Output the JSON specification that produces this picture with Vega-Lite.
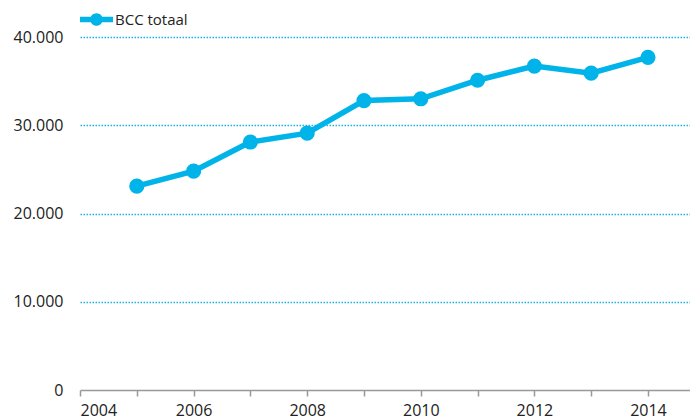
{
  "$schema": "https://vega.github.io/schema/vega-lite/v6.json",
  "autosize": "none",
  "width": 610,
  "height": 353,
  "padding": {"left": 80, "top": 37, "right": 0, "bottom": 29},
  "background": "white",
  "config": {"view": {"stroke": null}, "font": "Open Sans"},
  "data": {"values": [
    {"jaar": 2005, "waarde": 23100, "reeks": "BCC totaal"},
    {"jaar": 2006, "waarde": 24800, "reeks": "BCC totaal"},
    {"jaar": 2007, "waarde": 28100, "reeks": "BCC totaal"},
    {"jaar": 2008, "waarde": 29100, "reeks": "BCC totaal"},
    {"jaar": 2009, "waarde": 32800, "reeks": "BCC totaal"},
    {"jaar": 2010, "waarde": 33000, "reeks": "BCC totaal"},
    {"jaar": 2011, "waarde": 35100, "reeks": "BCC totaal"},
    {"jaar": 2012, "waarde": 36700, "reeks": "BCC totaal"},
    {"jaar": 2013, "waarde": 35900, "reeks": "BCC totaal"},
    {"jaar": 2014, "waarde": 37700, "reeks": "BCC totaal"}
  ]},
  "encoding": {
    "x": {
      "field": "jaar", "type": "quantitative",
      "scale": {"domain": [2004, 2014.74], "nice": false, "zero": false},
      "axis": {
        "title": null, "values": [2004,2005,2006,2007,2008,2009,2010,2011,2012,2013,2014],
        "format": "d",
        "labelExpr": "datum.value % 2 == 0 ? datum.label : ''",
        "grid": false, "domainColor": "#999999", "domainWidth": 1.5,
        "tickColor": "#999999", "tickSize": 6, "tickWidth": 1.5,
        "labelFontSize": 16, "labelColor": "#222222", "labelPadding": 6,
        "labelFont": "Open Sans", "zindex": 1
      }
    },
    "y": {
      "field": "waarde", "type": "quantitative",
      "scale": {"domain": [0, 40000], "nice": false},
      "axis": {
        "title": null, "values": [0, 10000, 20000, 30000, 40000],
        "format": ",d", "labelExpr": "replace(datum.label, ',', '.')",
        "domain": false, "ticks": false, "labelPadding": 17,
        "labelFontSize": 16, "labelColor": "#222222", "labelFont": "Open Sans",
        "grid": true, "gridColor": "#1AB3E6", "gridDash": [1.5, 1.5], "gridWidth": 1.5,
        "gridOpacity": {"condition": {"test": "datum.value === 0", "value": 0}, "value": 1}
      }
    },
    "color": {
      "field": "reeks", "type": "nominal",
      "scale": {"range": ["#00B4E9"]},
      "legend": {
        "title": null, "orient": "none", "legendX": 0, "legendY": -34,
        "symbolType": "M-1,-0.16H1V0.16H-1Z M0.38,0A0.38,0.38 0 1,1 -0.38,0A0.38,0.38 0 1,1 0.38,0Z",
        "symbolSize": 1089, "symbolStrokeWidth": 0, "symbolOpacity": 1,
        "labelFontSize": 15, "labelFont": "Open Sans", "labelColor": "#222222", "labelOffset": 2
      }
    }
  },
  "layer": [
    {"mark": {"type": "line", "strokeWidth": 5.5}},
    {"mark": {"type": "point", "filled": true, "size": 230, "opacity": 1}}
  ]
}
